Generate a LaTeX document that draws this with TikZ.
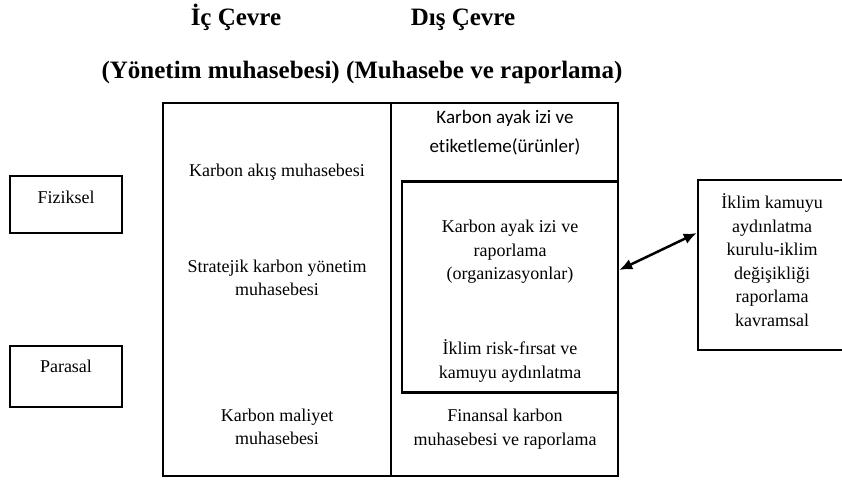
\documentclass[tikz,border=0pt]{standalone}
\usepackage{fontspec}
\setmainfont{Liberation Serif}
\newfontfamily\calib[Ligatures=NoCommon]{Carlito}
\usetikzlibrary{arrows.meta,calc}
\begin{document}
\begin{tikzpicture}[x=1pt,y=-1pt,
  boxn/.style={draw, line width=2.5pt, inner sep=0pt},
  txt/.style={font=\fontsize{18}{23.5}\selectfont, align=center, inner sep=0pt},
  sanstxt/.style={font=\calib\fontsize{19}{29}\selectfont, align=center, inner sep=0pt},
  hdr/.style={font=\fontsize{25}{30}\selectfont\bfseries, inner sep=0pt, anchor=base},
  arr/.style={{Latex[length=13pt,width=11pt]}-{Latex[length=13pt,width=11pt]}, line width=2.5pt}]
\useasboundingbox (0,0) rectangle (842,479);

% headers
\node[hdr] (h1) at (236,25.5) {İç Çevre};
\node[hdr] (h2) at (463,25.5) {Dış Çevre};
\node[hdr] (h3) at (362,78.5) {(Yönetim muhasebesi) (Muhasebe ve raporlama)};

% boxes
\node[boxn, minimum width=455pt, minimum height=373pt] (main) at (390.5,289.5) {};
\coordinate (dx) at (391,0);
\draw[line width=2.5pt] (main.north -| dx) -- (main.south -| dx);
\node[boxn, minimum width=216pt, minimum height=211pt] (inner) at (510,287) {};
\node[boxn, minimum width=148pt, minimum height=170pt] (rbox) at (772,265) {};
\node[boxn, minimum width=112pt, minimum height=57pt] (fiz) at (66,204.5) {};
\node[boxn, minimum width=112pt, minimum height=61pt] (par) at (66,376.5) {};

% texts
\node[txt] (fizt) at (66,197) {Fiziksel};
\node[txt] (part) at (66,366) {Parasal};
\node[txt] (t1) at (277,172) {Karbon akış muhasebesi};
\node[txt] (t2) at (277,278) {Stratejik karbon yönetim\\muhasebesi};
\node[txt] (t3) at (277,427) {Karbon maliyet\\muhasebesi};
\node[sanstxt] (t4) at (505,133) {Karbon ayak izi ve\\etiketleme(ürünler)};
\node[txt] (t5) at (510,252) {Karbon ayak izi ve\\raporlama\\(organizasyonlar)};
\node[txt] (t6) at (510,361) {İklim risk-fırsat ve\\kamuyu aydınlatma};
\node[txt] (t7) at (505,429) {Finansal karbon\\muhasebesi ve raporlama};
\node[txt] (t8) at (772,260) {İklim kamuyu\\aydınlatma\\kurulu-iklim\\değişikliği\\raporlama\\kavramsal};

% arrow
\draw[arr] ($(inner.east)+(0,-17)$) -- ($(rbox.west)+(0,-32)$);
\end{tikzpicture}
\end{document}
